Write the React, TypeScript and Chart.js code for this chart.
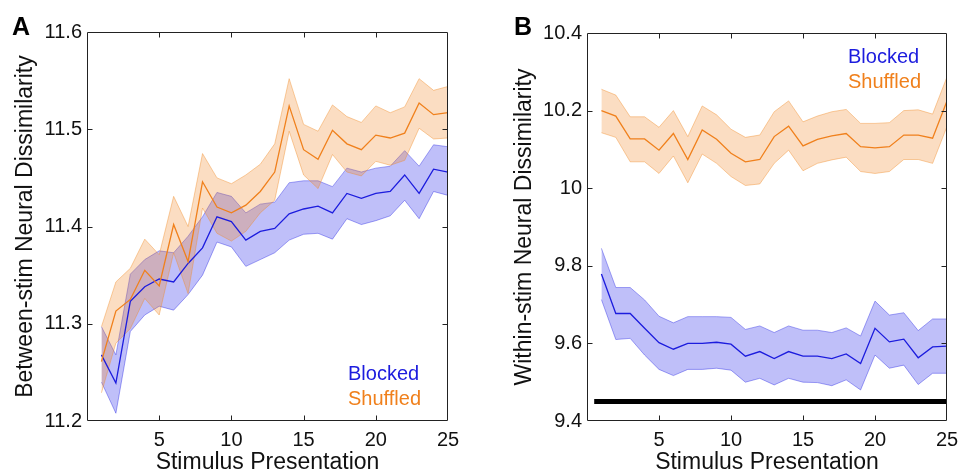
import { useEffect, useRef } from 'react';
import { Chart, registerables } from 'chart.js';

Chart.register(...registerables);

// ---------- data ----------
const presentations = [1, 2, 3, 4, 5, 6, 7, 8, 9, 10, 11, 12, 13, 14, 15, 16, 17, 18, 19, 20, 21, 22, 23, 24, 25];
const xTicksLabels = ['5', '10', '15', '20', '25'];

// Panel A: between-stim
const blockedA = [11.268, 11.239, 11.323, 11.338, 11.346, 11.343, 11.362, 11.378, 11.410, 11.405, 11.386, 11.395, 11.398, 11.413, 11.418, 11.421, 11.414, 11.434, 11.429, 11.434, 11.436, 11.453, 11.434, 11.459, 11.456];
const blockedAUpper = [11.297, 11.268, 11.351, 11.366, 11.375, 11.373, 11.390, 11.410, 11.435, 11.431, 11.414, 11.423, 11.425, 11.445, 11.447, 11.447, 11.441, 11.460, 11.456, 11.460, 11.462, 11.478, 11.462, 11.484, 11.482];
const blockedALower = [11.240, 11.208, 11.292, 11.309, 11.318, 11.314, 11.330, 11.350, 11.384, 11.379, 11.359, 11.366, 11.373, 11.386, 11.392, 11.393, 11.387, 11.408, 11.402, 11.406, 11.411, 11.427, 11.408, 11.436, 11.432];
const shuffledA = [11.261, 11.313, 11.325, 11.355, 11.339, 11.402, 11.364, 11.446, 11.420, 11.414, 11.422, 11.436, 11.456, 11.524, 11.479, 11.469, 11.499, 11.485, 11.479, 11.494, 11.491, 11.496, 11.527, 11.515, 11.517];
const shuffledAUpper = [11.297, 11.343, 11.357, 11.387, 11.371, 11.431, 11.400, 11.475, 11.450, 11.444, 11.453, 11.464, 11.485, 11.552, 11.505, 11.498, 11.525, 11.513, 11.507, 11.524, 11.517, 11.523, 11.552, 11.540, 11.544];
const shuffledALower = [11.229, 11.280, 11.295, 11.326, 11.309, 11.373, 11.331, 11.419, 11.393, 11.385, 11.395, 11.414, 11.427, 11.498, 11.453, 11.439, 11.474, 11.456, 11.452, 11.467, 11.463, 11.468, 11.501, 11.490, 11.491];

// Panel B: within-stim
const blockedB = [9.779, 9.677, 9.677, 9.639, 9.602, 9.585, 9.600, 9.600, 9.603, 9.598, 9.567, 9.579, 9.561, 9.579, 9.567, 9.567, 9.561, 9.573, 9.548, 9.639, 9.604, 9.611, 9.563, 9.591, 9.593];
const blockedBUpper = [9.845, 9.744, 9.744, 9.712, 9.670, 9.653, 9.669, 9.669, 9.669, 9.667, 9.636, 9.645, 9.628, 9.645, 9.634, 9.634, 9.628, 9.640, 9.619, 9.709, 9.673, 9.679, 9.633, 9.663, 9.663];
const blockedBLower = [9.713, 9.610, 9.613, 9.570, 9.533, 9.517, 9.533, 9.533, 9.536, 9.531, 9.500, 9.510, 9.493, 9.510, 9.500, 9.499, 9.491, 9.506, 9.480, 9.570, 9.536, 9.544, 9.494, 9.523, 9.523];
const shuffledB = [10.200, 10.186, 10.127, 10.127, 10.098, 10.141, 10.074, 10.150, 10.126, 10.090, 10.068, 10.074, 10.133, 10.160, 10.109, 10.126, 10.135, 10.141, 10.107, 10.104, 10.107, 10.137, 10.137, 10.129, 10.225];
const shuffledBUpper = [10.255, 10.240, 10.184, 10.184, 10.157, 10.200, 10.133, 10.212, 10.189, 10.152, 10.131, 10.137, 10.197, 10.225, 10.171, 10.186, 10.197, 10.203, 10.167, 10.167, 10.169, 10.200, 10.202, 10.191, 10.287];
const shuffledBLower = [10.143, 10.131, 10.068, 10.068, 10.038, 10.083, 10.014, 10.088, 10.064, 10.030, 10.007, 10.011, 10.064, 10.098, 10.045, 10.064, 10.073, 10.080, 10.043, 10.038, 10.043, 10.074, 10.074, 10.064, 10.159];

// significance bar in panel B
const sigBarX = [0.5, 25];
const sigBarY = 9.45;

const seriesNames = ['Blocked', 'Shuffled'];

// ---------- styling ----------
const FONT = '"Liberation Sans", Arial, Helvetica, sans-serif';
const TEXT = '#111';
const BLUE = 'rgb(28,28,222)';
const BLUE_FILL = 'rgba(0,0,230,0.25)';
const BLUE_EDGE = 'rgba(60,60,230,0.45)';
const ORANGE = 'rgb(240,128,28)';
const ORANGE_FILL = 'rgba(240,130,30,0.27)';
const ORANGE_EDGE = 'rgba(240,140,40,0.42)';

const pts = (ys: number[]) => presentations.map((x, i) => ({ x, y: ys[i] }));

function band(mean: number[], up: number[], lo: number[], line: string, fill: string, edge: string, label: string) {
  return [
    { label: label + ' upper', data: pts(up), borderColor: edge, borderWidth: 1, backgroundColor: fill, fill: '+1', pointRadius: 0, order: 2 },
    { label: label + ' lower', data: pts(lo), borderColor: edge, borderWidth: 1, backgroundColor: fill, fill: false, pointRadius: 0, order: 2 },
    { label, data: pts(mean), borderColor: line, borderWidth: 1.3, fill: false, pointRadius: 0, order: 1 },
  ];
}

const decorPlugin = {
  id: 'decor',
  afterDraw(chart: any, _args: any, opts: any) {
    const { ctx, chartArea: a, scales } = chart;
    ctx.save();
    // frame
    ctx.strokeStyle = '#222';
    ctx.lineWidth = 1;
    const L = Math.round(a.left) + 0.5, R = Math.round(a.right) - 0.5, T = Math.round(a.top) + 0.5, B = Math.round(a.bottom) - 0.5;
    ctx.beginPath();
    ctx.rect(L, T, R - L, B - T);
    ctx.stroke();
    // inward ticks
    const len = 5;
    ctx.beginPath();
    scales.x.ticks.forEach((t: any) => {
      const px = Math.round(scales.x.getPixelForValue(t.value)) + 0.5;
      if (px <= L + 1 || px >= R - 1) return;
      ctx.moveTo(px, B); ctx.lineTo(px, B - len);
      ctx.moveTo(px, T); ctx.lineTo(px, T + len);
    });
    scales.y.ticks.forEach((t: any) => {
      const py = Math.round(scales.y.getPixelForValue(t.value)) + 0.5;
      if (py <= T + 1 || py >= B - 1) return;
      ctx.moveTo(L, py); ctx.lineTo(L + len, py);
      ctx.moveTo(R, py); ctx.lineTo(R - len, py);
    });
    ctx.stroke();
    // panel letter
    ctx.fillStyle = '#000';
    ctx.font = `bold 25px ${FONT}`;
    ctx.textBaseline = 'alphabetic';
    ctx.textAlign = 'left';
    ctx.fillText(opts.letter, opts.letterX, opts.letterY);
    // legend (coloured text)
    ctx.font = `20px ${FONT}`;
    ctx.textBaseline = 'middle';
    opts.legend.forEach((it: any, i: number) => {
      ctx.fillStyle = it.color;
      ctx.fillText(it.text, opts.legendX, opts.legendY + i * opts.legendGap);
    });
    ctx.restore();
  },
};

function makeConfig(p: any) {
  return {
    type: 'line',
    data: { datasets: p.datasets },
    options: {
      responsive: false,
      animation: false,
      devicePixelRatio: 1,
      layout: { padding: { top: p.top, right: p.right, left: 0, bottom: 0 } },
      plugins: {
        legend: { display: false },
        tooltip: { enabled: false },
        decor: p.decor,
      },
      scales: {
        x: {
          type: 'linear',
          min: 0,
          max: 25,
          afterBuildTicks: (s: any) => { s.ticks = xTicksLabels.map((v) => ({ value: Number(v) })); },
          ticks: { font: { family: FONT, size: 20 }, color: TEXT, padding: 7, maxRotation: 0, autoSkip: false, callback: (v: any) => String(v) },
          grid: { display: false, drawTicks: false },
          border: { display: false },
          title: { display: true, text: 'Stimulus Presentation', color: TEXT, font: { family: FONT, size: 23, lineHeight: 0.9 }, padding: 0 },
          afterFit: (s: any) => { s.height = p.xAxisH; },
        },
        y: {
          type: 'linear',
          min: p.yMin,
          max: p.yMax,
          ticks: { stepSize: p.yStep, font: { family: FONT, size: 20 }, color: TEXT, padding: 5, callback: (v: any) => String(Math.round(Number(v) * 10) / 10) },
          grid: { display: false, drawTicks: false },
          border: { display: false },
          title: { display: true, text: p.yTitle, color: TEXT, font: { family: FONT, size: 23 }, padding: { top: p.yTitlePad, bottom: 0 } },
          afterFit: (s: any) => { s.width = p.yAxisW; },
        },
      },
    },
    plugins: [decorPlugin],
  };
}

function Panel({ left, width, params }: { left: number; width: number; params: any }) {
  const ref = useRef<HTMLCanvasElement>(null);
  useEffect(() => {
    const chart = new Chart(ref.current as HTMLCanvasElement, makeConfig(params) as any);
    return () => chart.destroy();
  }, []);
  return (
    <canvas
      ref={ref}
      width={width}
      height={473}
      style={{ position: 'absolute', left, top: 0, width, height: 473 }}
    />
  );
}

export default function App() {
  const panelA = {
    datasets: [
      ...band(shuffledA, shuffledAUpper, shuffledALower, ORANGE, ORANGE_FILL, ORANGE_EDGE, seriesNames[1]),
      ...band(blockedA, blockedAUpper, blockedALower, BLUE, BLUE_FILL, BLUE_EDGE, seriesNames[0]),
    ],
    top: 32, right: 36, xAxisH: 52, yAxisW: 87,
    yMin: 11.2, yMax: 11.6, yStep: 0.1,
    yTitle: 'Between-stim Neural Dissimilarity', yTitlePad: 12,
    decor: {
      letter: 'A', letterX: 12, letterY: 35,
      legend: [{ text: seriesNames[0], color: BLUE }, { text: seriesNames[1], color: ORANGE }],
      legendX: 348, legendY: 374, legendGap: 25,
    },
  };
  const panelB = {
    datasets: [
      { label: 'sig', data: sigBarX.map((x) => ({ x, y: sigBarY })), borderColor: '#000', borderWidth: 5, pointRadius: 0, fill: false, order: 0, borderCapStyle: 'butt' },
      ...band(shuffledB, shuffledBUpper, shuffledBLower, ORANGE, ORANGE_FILL, ORANGE_EDGE, seriesNames[1]),
      ...band(blockedB, blockedBUpper, blockedBLower, BLUE, BLUE_FILL, BLUE_EDGE, seriesNames[0]),
    ],
    top: 33, right: 22, xAxisH: 52, yAxisW: 103,
    yMin: 9.4, yMax: 10.4, yStep: 0.2,
    yTitle: 'Within-stim Neural Dissimilarity', yTitlePad: 27,
    decor: {
      letter: 'B', letterX: 30, letterY: 35,
      legend: [{ text: seriesNames[0], color: BLUE }, { text: seriesNames[1], color: ORANGE }],
      legendX: 364, legendY: 57, legendGap: 25,
    },
  };
  return (
    <div style={{ position: 'absolute', left: 0, top: 0, width: 969, height: 473, background: '#fff' }}>
      <Panel left={0} width={484} params={panelA} />
      <Panel left={484} width={485} params={panelB} />
    </div>
  );
}
